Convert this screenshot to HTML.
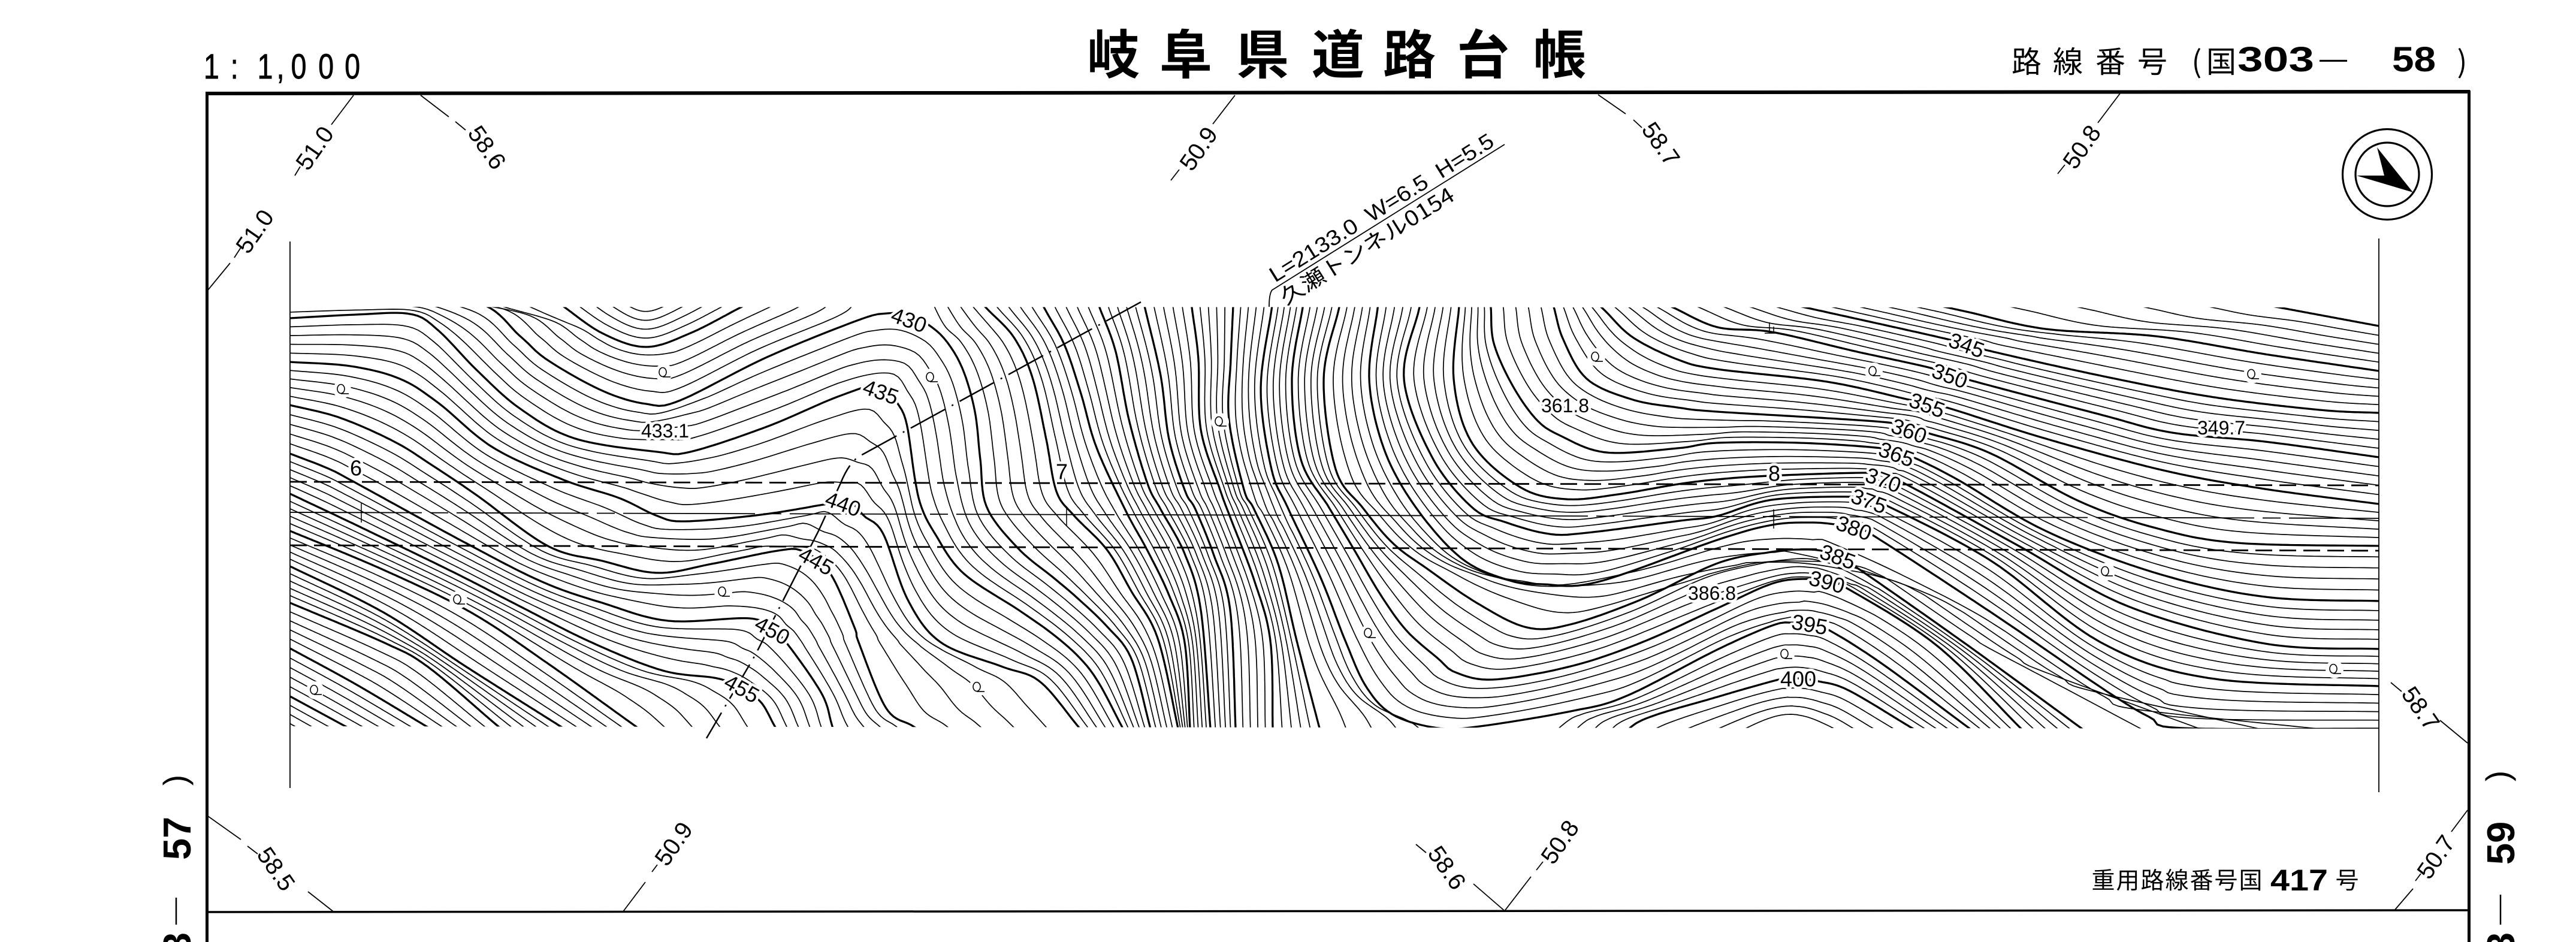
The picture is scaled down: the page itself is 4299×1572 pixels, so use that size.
<!DOCTYPE html>
<html><head><meta charset="utf-8"><style>
html,body{margin:0;padding:0;background:#fff}
svg{display:block}
text{font-family:"Liberation Sans","Noto Sans CJK JP",sans-serif;fill:#000}
.j{font-family:"Noto Sans CJK JP","Liberation Sans",sans-serif}
.b{font-weight:700}
.l{font-size:36px;text-anchor:middle;paint-order:stroke;stroke:#fff;stroke-width:9px;stroke-linejoin:round}
.t{font-size:40px;text-anchor:middle}
.ld{stroke:#000;stroke-width:1.8;fill:none}
</style></head><body>
<svg xmlns="http://www.w3.org/2000/svg" width="4299" height="1572" viewBox="0 0 4299 1572">
<rect width="4299" height="1572" fill="#fff"/>
<defs>
<clipPath id="strip"><polygon points="484,512 3970,513 3970,1216 484,1212"/></clipPath>
<g id="q"><circle cx="2" cy="0" r="15" fill="#fff"/><ellipse cx="0" cy="-1" rx="6" ry="7.5" fill="none" stroke="#000" stroke-width="1.6"/><path d="M0,7H13" stroke="#000" stroke-width="1.6"/></g>
</defs>
<g id="c" clip-path="url(#strip)" fill="none" stroke="#000" stroke-linejoin="round"></g>

<!-- frame -->
<path d="M343,156L4122,153" stroke="#000" stroke-width="6" fill="none"/>
<path d="M345.5,154V1572" stroke="#000" stroke-width="5" fill="none"/>
<path d="M4120.5,151V1572" stroke="#000" stroke-width="5" fill="none"/>
<path d="M345,1522L4120,1519" stroke="#000" stroke-width="3.5" fill="none"/>
<!-- strip edges -->
<path d="M484,403V1315" stroke="#000" stroke-width="1.8"/>
<path d="M3970,398V1322" stroke="#000" stroke-width="1.8"/>
<!-- road lines -->
<path d="M484,804L3970,810" stroke="#000" stroke-width="2.8" stroke-dasharray="28 12" fill="none"/>
<path d="M484,910L3970,919" stroke="#000" stroke-width="2.8" stroke-dasharray="28 12" fill="none"/>
<path d="M484,855L3970,865" stroke="#000" stroke-width="1.8" stroke-dasharray="220 14 30 14" fill="none"/>
<path d="M603,840V872M1780,845V878M2960,850V882" stroke="#000" stroke-width="1.5"/>
<!-- tunnel -->
<path d="M1904,504L1433,762Q1416,774 1403,806L1366,886L1261,1092L1179,1232" stroke="#000" stroke-width="2.5" stroke-dasharray="66 12 3 12" fill="none"/>
<path d="M2511,241L2123,484Q2118,490 2118,512" stroke="#000" stroke-width="1.8" fill="none"/>
<text transform="translate(2128,472) rotate(-32)" font-size="36" textLength="434" lengthAdjust="spacingAndGlyphs">L=2133.0 &#160;W=6.5 &#160;H=5.5</text>
<text transform="translate(2146,510) rotate(-32)" font-size="35" textLength="335" lengthAdjust="spacingAndGlyphs" class="j">久瀬トンネル0154</text>

<!-- header -->
<text transform="scale(.8 1)" font-size="58" y="131" x="425 481 537 577 607 664 719" stroke="#000" stroke-width=".9">1:1,000</text>
<text class="j b" font-size="88" y="123" text-anchor="middle" x="1858 1979 2107 2233 2352 2475 2603">岐阜県道路台帳</text>
<text class="j" font-size="50" y="121" text-anchor="middle" x="3382 3451 3522 3592 3666 3707">路線番号(国</text>
<text class="b" font-size="58" y="119" x="3734" textLength="128" lengthAdjust="spacingAndGlyphs">303</text>
<text font-size="46" y="113" x="3871" textLength="46" lengthAdjust="spacingAndGlyphs">—</text>
<text class="b" font-size="58" y="119" x="3992" textLength="73" lengthAdjust="spacingAndGlyphs">58</text>
<text class="j" font-size="50" y="121" x="4109" text-anchor="middle">)</text>

<!-- compass -->
<ellipse cx="3984" cy="291" rx="74.5" ry="75.5" fill="none" stroke="#000" stroke-width="3.2"/>
<ellipse cx="3984" cy="291" rx="53" ry="53" fill="none" stroke="#000" stroke-width="3.2"/>
<polygon points="3967,246 4027,321 3933,293 3979,293" fill="#000"/>

<!-- side numbers -->
<text class="b" font-size="65" transform="translate(318,1435) rotate(-90)">57</text>
<text font-size="55" text-anchor="middle" transform="translate(311,1302) rotate(-90)">)</text>
<path d="M294,1498V1543" stroke="#000" stroke-width="2.5"/>
<text class="b" font-size="65" transform="translate(318,1592) rotate(-90)">3</text>
<text class="b" font-size="65" transform="translate(4196,1443) rotate(-90)">59</text>
<text font-size="55" text-anchor="middle" transform="translate(4187,1295) rotate(-90)">)</text>
<path d="M4173,1493V1543" stroke="#000" stroke-width="2.5"/>
<text class="b" font-size="65" transform="translate(4196,1592) rotate(-90)">3</text>

<!-- bottom note -->
<text class="j" font-size="39" y="1483" text-anchor="middle" x="3510 3551 3592 3633 3674 3715 3756">重用路線番号国</text>
<text class="b" font-size="50" y="1486" x="3789" textLength="96" lengthAdjust="spacingAndGlyphs">417</text>
<text class="j" font-size="39" y="1483" x="3917" text-anchor="middle">号</text>

<!-- leaders -->
<path class="ld" d="M590,159L553,208M501,278L492,293
M702,159L749,195M760,203L777,217
M347,484L384,439M391,430L402,413
M2061,159L2024,207M1968,283L1954,301
M2667,158L2713,190M2726,200L2740,213
M3538,156L3501,205M3446,275L3434,290
M347,1362L402,1401M413,1412L430,1425M514,1488L556,1521
M1040,1521L1077,1472M1097,1443L1088,1455
M2511,1520L2459,1475M2363,1409L2380,1423
M2511,1520L2555,1463M2575,1438L2564,1452
M4118,1240L4072,1202M3990,1139L4008,1154
M4118,1352L4091,1388M3997,1518L4027,1483M4031,1470L4040,1458"/>
<g class="tt">
<text class="t" dy=".35em" transform="translate(525,247) rotate(-55)">51.0</text>
<text class="t" dy=".35em" transform="translate(813,246) rotate(55)">58.6</text>
<text class="t" dy=".35em" transform="translate(425,386) rotate(-55)">51.0</text>
<text class="t" dy=".35em" transform="translate(2000,248) rotate(-55)">50.9</text>
<text class="t" dy=".35em" transform="translate(2772,240) rotate(55)">58.7</text>
<text class="t" dy=".35em" transform="translate(3474,245) rotate(-55)">50.8</text>
<text class="t" dy=".35em" transform="translate(461,1450) rotate(55)">58.5</text>
<text class="t" dy=".35em" transform="translate(1124,1408) rotate(-55)">50.9</text>
<text class="t" dy=".35em" transform="translate(2415,1448) rotate(55)">58.6</text>
<text class="t" dy=".35em" transform="translate(2603,1405) rotate(-55)">50.8</text>
<text class="t" dy=".35em" transform="translate(4040,1182) rotate(55)">58.7</text>
<text class="t" dy=".35em" transform="translate(4065,1430) rotate(-55)">50.7</text>
</g>

<!-- spot marks -->
<use href="#q" x="1106" y="622"/><use href="#q" x="569" y="650"/><use href="#q" x="763" y="1001"/><use href="#q" x="524" y="1152"/><use href="#q" x="1205" y="988"/><use href="#q" x="1552" y="630"/><use href="#q" x="2034" y="704"/><use href="#q" x="2662" y="596"/><use href="#q" x="3125" y="620"/><use href="#q" x="3757" y="625"/><use href="#q" x="3513" y="954"/><use href="#q" x="3894" y="1117"/><use href="#q" x="2978" y="1092"/><use href="#q" x="1630" y="1147"/><use href="#q" x="2283" y="1057"/>
<path d="M2945,556H2962M2953,538V556M2960,545V556" stroke="#000" stroke-width="1.5" fill="none"/>

<!-- elevation labels -->
<text class="l" dy=".35em" transform="translate(1110,719)" style="font-size:32px">433.1</text>
<text class="l" dy=".35em" transform="translate(2612,677)" style="font-size:32px">361.8</text>
<text class="l" dy=".35em" transform="translate(3707,714)" style="font-size:32px">349.7</text>
<text class="l" dy=".35em" transform="translate(2857,990)" style="font-size:32px">386.8</text>
<text class="l" dy=".35em" transform="translate(1517,534) rotate(20)">430</text>
<text class="l" dy=".35em" transform="translate(1470,654) rotate(20)">435</text>
<text class="l" dy=".35em" transform="translate(1407,841) rotate(20)">440</text>
<text class="l" dy=".35em" transform="translate(1362,936) rotate(29)">445</text>
<text class="l" dy=".35em" transform="translate(1289,1052) rotate(29)">450</text>
<text class="l" dy=".35em" transform="translate(1238,1149) rotate(29)">455</text>
<text class="l" dy=".35em" transform="translate(3282,576) rotate(20)">345</text>
<text class="l" dy=".35em" transform="translate(3254,627) rotate(20)">350</text>
<text class="l" dy=".35em" transform="translate(3216,676) rotate(20)">355</text>
<text class="l" dy=".35em" transform="translate(3186,719) rotate(20)">360</text>
<text class="l" dy=".35em" transform="translate(3165,758) rotate(20)">365</text>
<text class="l" dy=".35em" transform="translate(3143,801) rotate(20)">370</text>
<text class="l" dy=".35em" transform="translate(3119,836) rotate(20)">375</text>
<text class="l" dy=".35em" transform="translate(3094,881) rotate(20)">380</text>
<text class="l" dy=".35em" transform="translate(3067,929) rotate(20)">385</text>
<text class="l" dy=".35em" transform="translate(3049,971) rotate(15)">390</text>
<text class="l" dy=".35em" transform="translate(3020,1042) rotate(10)">395</text>
<text class="l" dy=".35em" transform="translate(3001,1133)">400</text>
<text class="l" dy=".35em" transform="translate(594,781)">6</text>
<text class="l" dy=".35em" transform="translate(1772,787)">7</text>
<text class="l" dy=".35em" transform="translate(2961,790)">8</text>
</svg>
<script>
(function(){
var k={
335:[[3841,520],[3970,544]],
340:[[3286,521],[3414,549],[3597,561],[3780,591],[3970,619]],
345:[[3017,514],[3250,566],[3314,584],[3506,627],[3689,662],[3871,684],[3970,689]],
350:[[2792,513],[2866,546],[2957,554],[3095,586],[3222,614],[3286,634],[3506,692],[3625,722],[3780,737],[3970,763]],
355:[[2678,518],[2725,563],[2800,600],[2866,616],[3049,637],[3186,667],[3245,679],[3414,732],[3615,786],[3780,816],[3970,841]],
360:[[2593,512],[2609,567],[2649,633],[2725,667],[2800,680],[2866,687],[3140,704],[3186,715],[3222,724],[3323,757],[3469,836],[3597,881],[3734,906],[3970,911]],
365:[[2488,513],[2493,573],[2524,643],[2564,700],[2604,727],[2680,755],[2800,748],[2866,739],[3003,739],[3131,747],[3165,755],[3195,764],[3268,801],[3414,886],[3597,956],[3780,996],[3970,1003]],
370:[[2435,512],[2426,633],[2457,740],[2537,813],[2613,833],[2700,825],[2800,808],[2866,800],[2953,794],[3113,789],[3143,795],[3177,806],[3369,911],[3552,1012],[3780,1074],[3970,1083]],
375:[[2368,517],[2343,633],[2390,763],[2457,847],[2511,871],[2585,891],[2649,889],[2804,869],[2866,861],[2957,834],[3090,829],[3119,836],[3149,844],[3323,936],[3506,1072],[3689,1132],[3970,1145]],
380:[[2299,515],[2285,633],[2310,750],[2363,847],[2438,931],[2511,966],[2576,975],[2667,971],[2866,901],[2957,876],[3021,872],[3062,875],[3094,881],[3122,891],[3323,1022],[3506,1147],[3588,1197],[3643,1215],[3970,1216]],
385:[[2234,517],[2209,633],[2229,783],[2274,847],[2325,907],[2383,950],[2466,1007],[2548,1047],[2621,1042],[2740,1000],[2866,940],[2957,921],[3003,917],[3040,919],[3067,929],[3094,944],[3277,1072],[3469,1212]],
390:[[2174,513],[2156,633],[2171,767],[2218,847],[2262,921],[2303,991],[2347,1052],[2400,1099],[2429,1122],[2493,1134],[2621,1112],[2740,1072],[2866,1015],[2957,974],[3012,966],[3049,971],[3081,981],[3232,1077],[3369,1212]],
395:[[2122,517],[2104,650],[2122,783],[2149,847],[2204,964],[2245,1069],[2280,1146],[2325,1193],[2400,1215],[2470,1212],[2621,1187],[2713,1162],[2866,1084],[2957,1044],[2989,1039],[3020,1042],[3053,1052],[3140,1107],[3282,1212]],
'395L':[[2122,517],[2104,650],[2122,783],[2149,847],[2204,964],[2245,1069],[2280,1146],[2325,1193],[2400,1215],[2440,1250]],
'395R':[[2540,1240],[2590,1200],[2621,1187],[2713,1162],[2866,1084],[2957,1044],[2989,1039],[3020,1042],[3053,1052],[3140,1107],[3282,1212]],
'400R':[[2700,1240],[2740,1202],[2866,1163],[2957,1137],[2974,1134],[3001,1132],[3035,1137],[3085,1152],[3186,1212]],
'405v':[[2880,1260],[2990,1205],[3100,1260]],
'400c':[[2058,510],[2054,600],[2051,700],[2076,817],[2093,850],[2133,941],[2164,1069],[2202,1215]],
'405c':[[1989,513],[2000,600],[2004,717],[2036,817],[2053,863],[2093,968],[2120,1069],[2124,1215]],
'410c':[[1911,515],[1937,627],[1951,733],[1978,820],[1995,850],[2026,927],[2053,1018],[2062,1215]],
'415c':[[1835,513],[1862,587],[1884,700],[1915,807],[1937,850],[1977,924],[2004,1018],[2020,1215]],
'420c':[[1745,518],[1777,577],[1804,657],[1830,747],[1879,853],[1914,917],[1950,991],[1977,1072],[1986,1215]],
'425c':[[1647,515],[1692,563],[1723,630],[1746,733],[1763,820],[1792,860],[1847,917],[1887,985],[1932,1065],[1966,1215]],
'430R':[[1530,495],[1551,543],[1580,570],[1607,617],[1627,687],[1636,767],[1647,847],[1700,916],[1758,964],[1798,998],[1847,1045],[1888,1099],[1919,1212]],
'430L':[[484,480],[650,490],[800,506],[868,561],[914,601],[1005,652],[1078,674],[1133,669],[1280,596],[1433,534],[1470,505]],
'425V':[[937,509],[1005,556],[1078,579],[1152,556],[1234,514]],
'420v':[[1020,470],[1078,505],[1150,470]],
430:[[484,480],[650,490],[800,506],[868,561],[914,601],[1005,652],[1078,674],[1133,669],[1280,596],[1433,534],[1480,523],[1517,525],[1551,543],[1580,570],[1607,617],[1627,687],[1636,767],[1647,847],[1700,916],[1758,964],[1798,998],[1847,1045],[1888,1099],[1919,1212]],
435:[[484,531],[594,525],[685,524],[731,551],[795,617],[868,682],[960,732],[1097,754],[1152,754],[1280,712],[1398,662],[1470,642],[1497,672],[1513,707],[1527,800],[1538,847],[1560,890],[1607,956],[1700,1018],[1758,1059],[1803,1099],[1834,1140],[1872,1212]],
440:[[484,604],[585,611],[667,632],[731,672],[823,747],[941,801],[1033,831],[1097,861],[1143,870],[1270,859],[1380,841],[1415,835],[1442,861],[1474,891],[1515,1001],[1570,1072],[1671,1112],[1735,1137],[1799,1212]],
445:[[484,676],[567,697],[658,737],[722,777],[795,826],[914,911],[1005,936],[1097,956],[1188,941],[1298,919],[1340,920],[1385,956],[1426,1047],[1433,1072],[1479,1182],[1524,1212]],
450:[[484,757],[548,782],[594,806],[777,906],[905,971],[1005,1006],[1115,1036],[1252,1032],[1289,1052],[1312,1072],[1371,1157],[1389,1212]],
455:[[484,824],[594,876],[759,956],[868,1012],[987,1072],[1106,1119],[1197,1132],[1238,1149],[1270,1172],[1293,1212]],
460:[[484,886],[640,951],[786,1022],[914,1107],[1051,1205]],
465:[[484,945],[640,1022],[777,1112],[932,1210]],
470:[[484,1006],[640,1072],[713,1112],[823,1205]],
475:[[484,1082],[594,1142],[708,1210]],
480:[[484,1162],[567,1207]],
'485v':[[470,1230],[520,1260]]
};
var chains=[
[335,340,345,350,355,360,365,370,375,380,385,390,395],
['395L','400c','405c','410c','415c','420c','425c','430R'],
['395R','400R','405v'],
['420v','425V','430L'],
[430,435,440,445,450,455,460,465,470,475,480,'485v']
];
var thick=[335,340,345,350,355,360,365,370,375,380,385,390,395,'400c','405c','410c','415c','420c','425c','400R','425V',430,435,440,445,450,455,460,465,470,475,480];
var N=220;
function ext(P){
 var n=P.length;
 function f(p,q){var dx=p[0]-q[0],dy=p[1]-q[1],l=Math.hypot(dx,dy)||1;return [p[0]+dx/l*60,p[1]+dy/l*60];}
 return [f(P[0],P[1])].concat(P,[f(P[n-1],P[n-2])]);
}
function samp(Q){
 var P=ext(Q),D=[];
 for(var i=0;i<P.length-1;i++){
  var p0=P[Math.max(i-1,0)],p1=P[i],p2=P[i+1],p3=P[Math.min(i+2,P.length-1)];
  for(var j=0;j<14;j++){
   var t=j/14,t2=t*t,t3=t2*t;
   D.push([
    .5*(2*p1[0]+(p2[0]-p0[0])*t+(2*p0[0]-5*p1[0]+4*p2[0]-p3[0])*t2+(3*p1[0]-p0[0]-3*p2[0]+p3[0])*t3),
    .5*(2*p1[1]+(p2[1]-p0[1])*t+(2*p0[1]-5*p1[1]+4*p2[1]-p3[1])*t2+(3*p1[1]-p0[1]-3*p2[1]+p3[1])*t3)
   ]);
  }
 }
 D.push(P[P.length-1]);
 var C=[0];
 for(i=1;i<D.length;i++)C.push(C[i-1]+Math.hypot(D[i][0]-D[i-1][0],D[i][1]-D[i-1][1]));
 var L=C[C.length-1],R=[],m=0;
 for(i=0;i<N;i++){
  var s=L*i/(N-1);
  while(m<D.length-2&&C[m+1]<s)m++;
  var u=(s-C[m])/((C[m+1]-C[m])||1);
  R.push([D[m][0]+(D[m+1][0]-D[m][0])*u,D[m][1]+(D[m+1][1]-D[m][1])*u]);
 }
 return R;
}
var S={},g=document.getElementById('c'),ns='http://www.w3.org/2000/svg';
function get(n){return S[n]||(S[n]=samp(k[n]));}
function draw(pts,w){
 var p=document.createElementNS(ns,'path'),d='M';
 for(var i=0;i<pts.length;i++)d+=(i?'L':'')+pts[i][0].toFixed(1)+','+pts[i][1].toFixed(1);
 p.setAttribute('d',d);p.setAttribute('stroke-width',w);g.appendChild(p);
}
chains.forEach(function(c){
 for(var i=0;i<c.length-1;i++){
  var a=get(c[i]),b=get(c[i+1]);
  for(var q=1;q<5;q++){
   var t=q/5,r=[];
   for(var j=0;j<N;j++)r.push([a[j][0]*(1-t)+b[j][0]*t,a[j][1]*(1-t)+b[j][1]*t]);
   draw(r,1.7);
  }
 }
});
thick.forEach(function(n){draw(get(n),3.3);});
})();
</script>
</body></html>
